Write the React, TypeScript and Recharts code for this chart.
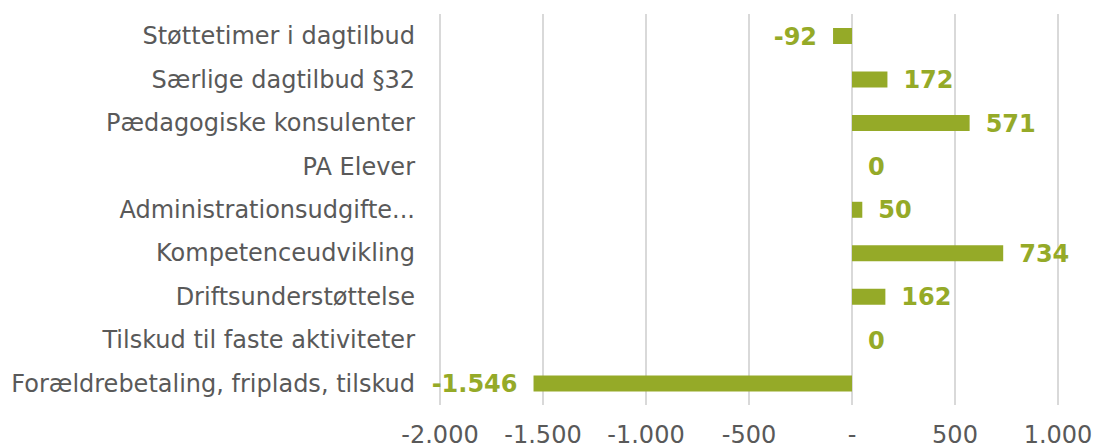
import { Bar, BarChart, CartesianGrid, LabelList, Rectangle, XAxis, YAxis } from 'recharts';

const categories = [
  'Støttetimer i dagtilbud',
  'Særlige dagtilbud §32',
  'Pædagogiske konsulenter',
  'PA Elever',
  'Administrationsudgifte...',
  'Kompetenceudvikling',
  'Driftsunderstøttelse',
  'Tilskud til faste aktiviteter',
  'Forældrebetaling, friplads, tilskud',
];
const values = [-92, 172, 571, 0, 50, 734, 162, 0, -1546];
const xTicks = [-2000, -1500, -1000, -500, 0, 500, 1000];

const data = categories.map((name, i) => ({ name, value: values[i] }));

const GREEN = '#95AA28';
const GREY = '#595959';
const FONT = '"DejaVu Sans", Verdana, sans-serif';

// dansk talformat: punktum som tusindtalsseparator, nul vises som "-"
function fmt(v: number) {
  if (v === 0) return '-';
  const s = Math.abs(v).toString().replace(/\B(?=(\d{3})+(?!\d))/g, '.');
  return (v < 0 ? '-' : '') + s;
}

function ValueLabel(props: any) {
  const { x, y, width, height, value } = props;
  const left = Math.min(x, x + width);
  const right = Math.max(x, x + width);
  const neg = value < 0;
  return (
    <text
      x={neg ? left - 16 : (value === 0 ? x : right) + 16}
      y={y + height / 2}
      dy="0.36em"
      textAnchor={neg ? 'end' : 'start'}
      fill={GREEN}
      fontWeight="bold"
      fontSize={24}
      fontFamily={FONT}
    >
      {value === 0 ? '0' : fmt(value)}
    </text>
  );
}

// nul-værdier tegnes ikke som bjælke, men skal stadig have en etiket
function BarShape(props: any) {
  if (props.payload && props.payload.value === 0) return <g />;
  return <Rectangle {...props} />;
}

export default function App() {
  return (
    <div style={{ position: 'fixed', top: 0, left: 0, background: '#fff' }}>
      <BarChart
        width={1095}
        height={444}
        data={data}
        layout="vertical"
        margin={{ top: 14, right: 37, bottom: 0, left: 0 }}
        barSize={16}
      >
        <CartesianGrid horizontal={false} stroke="#d9d9d9" strokeWidth={2} />
        <XAxis
          type="number"
          domain={[-2000, 1000]}
          ticks={xTicks}
          tickFormatter={fmt}
          axisLine={false}
          tickLine={false}
          tickSize={0}
          tickMargin={21}
          height={39}
          tick={{ fill: GREY, fontSize: 24, fontFamily: FONT }}
          interval={0}
        />
        <YAxis
          type="category"
          dataKey="name"
          width={440}
          axisLine={false}
          tickLine={false}
          tickSize={0}
          tickMargin={25}
          tick={{ fill: GREY, fontSize: 24, fontFamily: FONT }}
          interval={0}
        />
        <Bar
          dataKey="value"
          fill={GREEN}
          minPointSize={1}
          shape={BarShape}
          isAnimationActive={false}
        >
          <LabelList dataKey="value" content={ValueLabel} />
        </Bar>
      </BarChart>
    </div>
  );
}
